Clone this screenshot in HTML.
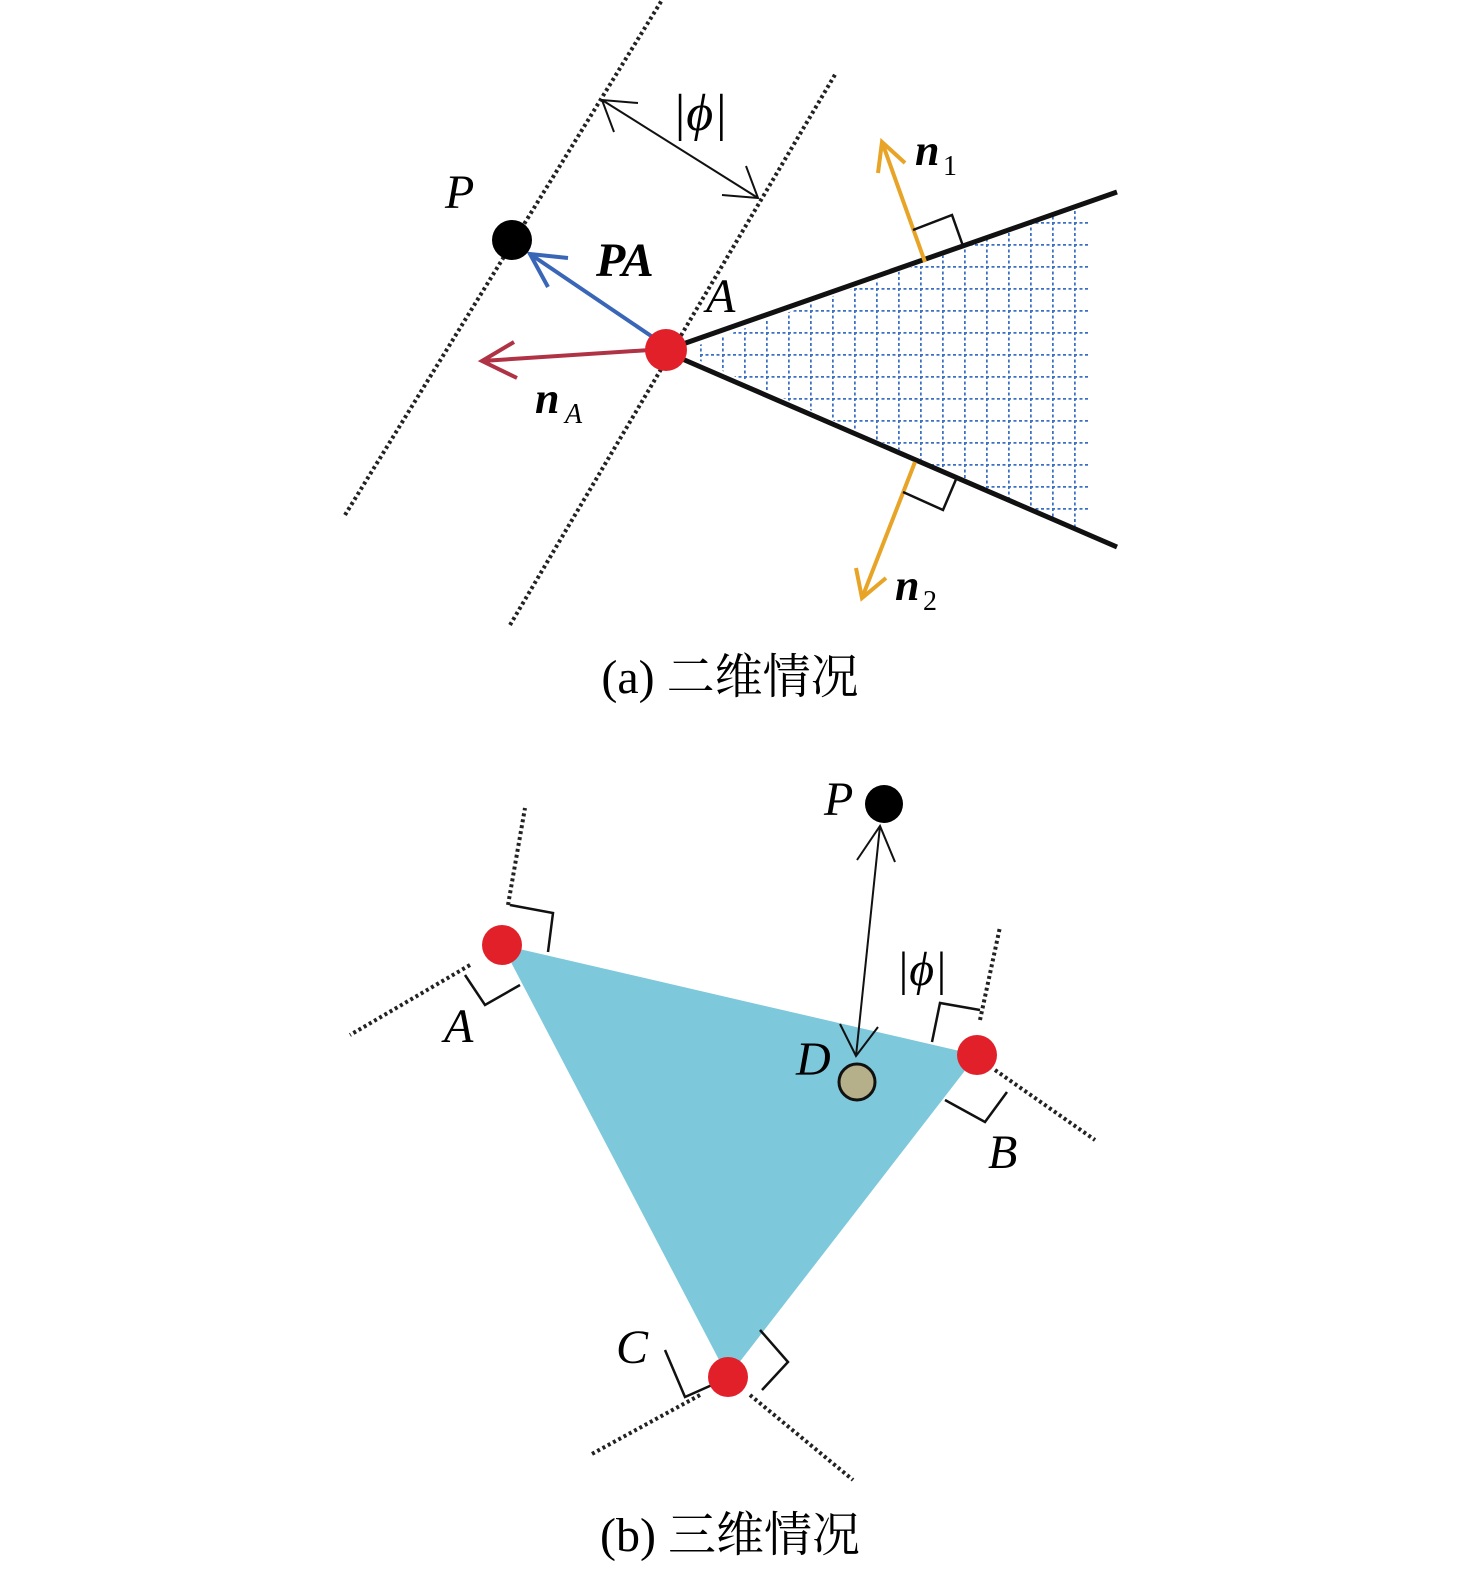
<!DOCTYPE html>
<html><head><meta charset="utf-8"><style>
html,body{margin:0;padding:0;background:#fff;width:1476px;height:1584px;overflow:hidden}
svg{display:block}
.t{font-family:"Liberation Serif","Noto Serif CJK SC",serif}
</style></head><body>
<svg width="1476" height="1584" viewBox="0 0 1476 1584" xmlns="http://www.w3.org/2000/svg">
<defs>
<pattern id="g" x="700" y="200" width="22" height="22" patternUnits="userSpaceOnUse">
<line x1="0" y1="0.5" x2="22" y2="0.5" stroke="#3b6fc4" stroke-width="2.5" stroke-dasharray="3,2.5"/>
<line x1="0.5" y1="0" x2="0.5" y2="22" stroke="#3b6fc4" stroke-width="2.5" stroke-dasharray="3,2.5"/>
</pattern>
<clipPath id="wc"><polygon points="680,352 1117,192 1117,547"/></clipPath>
</defs>
<!-- top -->
<rect x="700" y="200" width="388" height="330" fill="url(#g)" clip-path="url(#wc)"/>
<g stroke="#222" stroke-width="4" stroke-dasharray="3,3" fill="none">
<line x1="345" y1="515" x2="662" y2="0"/>
<line x1="510" y1="625" x2="836" y2="73"/>
</g>
<g stroke="#111" stroke-width="2" fill="none">
<line x1="602" y1="100" x2="758" y2="198"/>
<polyline points="638,103 602,100 614,132"/>
<polyline points="722,195 758,198 746,166"/>
</g>
<text x="672" y="130" class="t" font-size="52" font-style="italic">|ϕ|</text>
<line x1="680" y1="345" x2="1117" y2="192" stroke="#111" stroke-width="5"/>
<line x1="680" y1="358" x2="1117" y2="547" stroke="#111" stroke-width="5"/>
<!-- orange -->
<g stroke="#e8a427" stroke-width="4" fill="none">
<line x1="925" y1="262" x2="882" y2="142"/>
<polyline points="878,173 882,142 905,163"/>
<line x1="915" y1="462" x2="862" y2="598"/>
<polyline points="856,568 862,598 886,578"/>
</g>
<g stroke="#111" stroke-width="2.5" fill="none">
<polyline points="913,230 952,215 963,246"/>
<polyline points="903,492 943,510 957,477"/>
</g>
<text x="915" y="165" class="t" font-size="44" font-weight="bold" font-style="italic">n</text>
<text x="943" y="175" class="t" font-size="28">1</text>
<text x="895" y="600" class="t" font-size="44" font-weight="bold" font-style="italic">n</text>
<text x="923" y="610" class="t" font-size="28">2</text>
<!-- arrows -->
<g stroke="#3a66b8" stroke-width="4" fill="none">
<line x1="660" y1="342" x2="530" y2="254"/>
<polyline points="548,287 530,254 568,258"/>
</g>
<g stroke="#b03345" stroke-width="4" fill="none">
<line x1="650" y1="350" x2="482" y2="361"/>
<polyline points="514,342 482,361 517,378"/>
</g>
<circle cx="512" cy="240" r="20" fill="#000"/>
<circle cx="666" cy="350" r="21" fill="#e2202a"/>
<text x="445" y="208" class="t" font-size="48" font-style="italic">P</text>
<text x="596" y="276" class="t" font-size="48" font-weight="bold" font-style="italic">PA</text>
<text x="706" y="312" class="t" font-size="48" font-style="italic">A</text>
<text x="535" y="413" class="t" font-size="44" font-weight="bold" font-style="italic">n</text>
<text x="565" y="423" class="t" font-size="28" font-style="italic">A</text>
<text x="730" y="693" class="t" font-size="48" text-anchor="middle">(a) 二维情况</text>
<!-- bottom -->
<polygon points="502,945 977,1055 728,1377" fill="#7ec8dc"/>
<g stroke="#222" stroke-width="4" stroke-dasharray="3,3" fill="none">
<line x1="508" y1="905" x2="525" y2="808"/>
<line x1="470" y1="965" x2="350" y2="1035"/>
<line x1="980" y1="1020" x2="1000" y2="927"/>
<line x1="995" y1="1070" x2="1095" y2="1140"/>
<line x1="700" y1="1395" x2="590" y2="1455"/>
<line x1="750" y1="1395" x2="853" y2="1480"/>
</g>
<g stroke="#111" stroke-width="2.5" fill="none">
<polyline points="510,905 553,913 548,952"/>
<polyline points="465,975 485,1005 520,985"/>
<polyline points="932,1042 940,1003 980,1010"/>
<polyline points="945,1100 985,1122 1007,1092"/>
<polyline points="665,1350 685,1397 712,1385"/>
<polyline points="760,1330 788,1362 762,1390"/>
</g>
<g stroke="#111" stroke-width="2" fill="none">
<line x1="880" y1="826" x2="856" y2="1056"/>
<polyline points="857,860 880,826 895,862"/>
<polyline points="840,1024 856,1056 878,1027"/>
</g>
<circle cx="884" cy="804" r="19" fill="#000"/>
<circle cx="857" cy="1082" r="18" fill="#b5b08a" stroke="#111" stroke-width="3"/>
<circle cx="502" cy="945" r="20" fill="#e2202a"/>
<circle cx="977" cy="1055" r="20" fill="#e2202a"/>
<circle cx="728" cy="1377" r="20" fill="#e2202a"/>
<text x="824" y="815" class="t" font-size="48" font-style="italic">P</text>
<text x="896" y="985" class="t" font-size="48" font-style="italic">|ϕ|</text>
<text x="796" y="1075" class="t" font-size="48" font-style="italic">D</text>
<text x="444" y="1042" class="t" font-size="48" font-style="italic">A</text>
<text x="988" y="1168" class="t" font-size="48" font-style="italic">B</text>
<text x="616" y="1363" class="t" font-size="48" font-style="italic">C</text>
<text x="730" y="1551" class="t" font-size="48" text-anchor="middle">(b) 三维情况</text>
</svg>
</body></html>
